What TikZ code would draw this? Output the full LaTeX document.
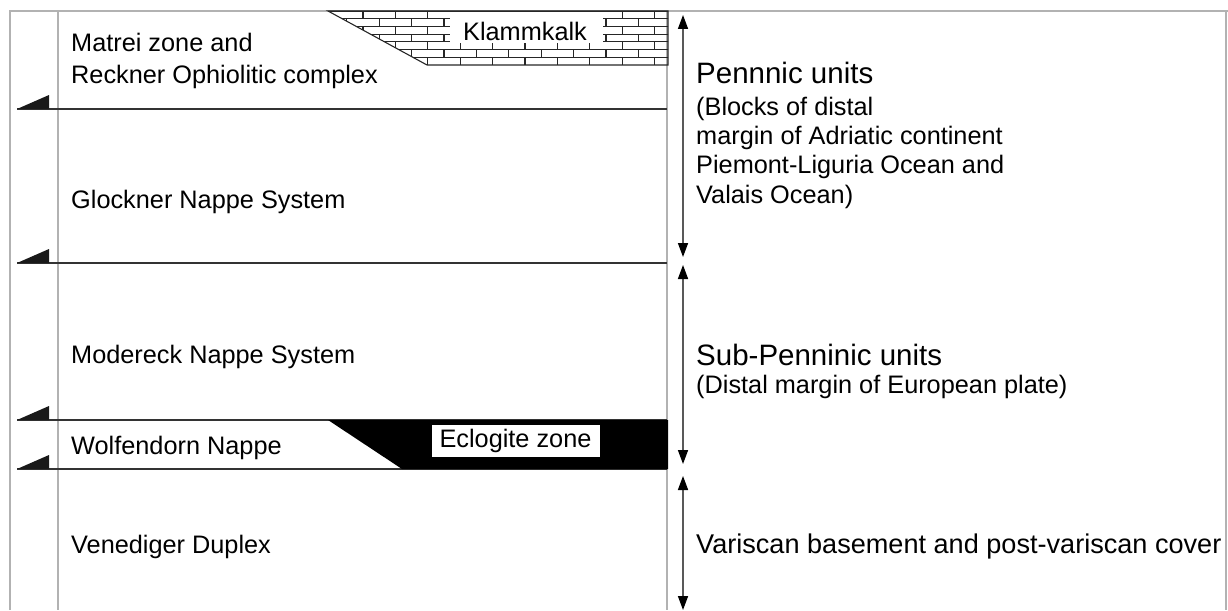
\documentclass[tikz,border=0pt]{standalone}
\usepackage{fontspec}
\setmainfont{Liberation Sans}
\usetikzlibrary{arrows.meta}

\begin{document}
\begin{tikzpicture}[x=1pt,y=-1pt,
                frame/.style={draw=black!30,line width=1.2pt},
                thrust/.style={draw=black!80,line width=1.5pt},
                thrusttip/.style={fill=black!90},
                brick/.style={draw=black!85,line width=1.1pt},
                unitarrow/.style={draw=black!65,line width=1.5pt,
                    {Triangle[length=14pt,width=10pt,color=black]}-{Triangle[length=14pt,width=10pt,color=black]}},
                unitname/.style={anchor=base west,inner sep=0pt,font=\fontsize{25.3}{30}\selectfont},
                bigname/.style={anchor=base west,inner sep=0pt,font=\fontsize{29.5}{35}\selectfont}
            ]
                \useasboundingbox (0,0) rectangle (1228,610);
% frame of the table
                \draw[frame] (10,610) -- (10,11) -- (1228,11);
                \draw[frame] (58,11) -- (58,610);
                \draw[frame] (667,11) -- (667,610);
                \draw[frame] (1226,11) -- (1226,610);
% thrust planes with their triangles
                \foreach \y in {109,263,420,469}
                    {
                    \draw[thrust] (17,\y) -- (667,\y);
                    \fill[thrusttip] (17,\y) -- (49,\y) -- (49,\y-14) -- cycle;
                }
% Klammkalk bricks
                \begin{scope}
                    \clip (328,11) -- (668,11) -- (668,65) -- (427,65) -- cycle;
                    \foreach \r in {0,...,6}
                        {
                        \pgfmathsetmacro{\yt}{11+\r*7.714}
                        \pgfmathsetmacro{\off}{mod(\r,2)*16.2}
                        \draw[brick] (300,\yt) -- (700,\yt);
                        \foreach \c in {0,...,11}
                            {
                            \draw[brick] (330.6+\off+\c*32.4,\yt) -- ++(0,7.714);
                        }
                    }
                \end{scope}
                \draw[brick] (328,11) -- (427,65) -- (668,65) -- (668,11) -- cycle;
                \fill[white] (450,12) rectangle (603,43);
                \node[anchor=base,inner sep=0pt,font=\fontsize{25.3}{30}\selectfont] (klamm) at (525,41) {Klammkalk};
% Eclogite zone
                \fill[black] (328,420) -- (668,420) -- (668,469) -- (402,469) -- cycle;
                \node[draw=black,fill=white,line width=0.8pt,inner xsep=8.5pt,inner ysep=4.5pt,
                      font=\fontsize{25.3}{30}\selectfont] (eclogite) at (515.5,441) {Eclogite zone};
% unit names
                \node[unitname] (matrei) at (71,52) {Matrei zone and};
                \node[unitname] (reckner) at (71,83) {Reckner Ophiolitic complex};
                \node[unitname] (glockner) at (71,208) {Glockner Nappe System};
                \node[unitname] (modereck) at (71,363) {Modereck Nappe System};
                \node[unitname] (wolfendorn) at (71,454) {Wolfendorn Nappe};
                \node[unitname] (venediger) at (71,553) {Venediger Duplex};
% extent arrows
                \coordinate (penntop) at (683,15);
                \coordinate (pennbot) at (683,257);
                \coordinate (subtop) at (683,265);
                \coordinate (subbot) at (683,464);
                \coordinate (vartop) at (683,476);
                \coordinate (varbot) at (683,610);
                \draw[unitarrow] (penntop) -- (pennbot);
                \draw[unitarrow] (subtop) -- (subbot);
                \draw[unitarrow] (vartop) -- (varbot);
% groups
                \node[bigname] (pennic) at (696,83) {Pennnic units};
                \node[unitname] (pennicA) at (696,115) {(Blocks of distal};
                \node[unitname] (pennicB) at (696,144) {margin of Adriatic continent};
                \node[unitname] (pennicC) at (696,173) {Piemont-Liguria Ocean and};
                \node[unitname] (pennicD) at (696,203) {Valais Ocean)};
                \node[bigname] (subpennic) at (696,365) {Sub-Penninic units};
                \node[unitname] (subpennicA) at (696,393) {(Distal margin of European plate)};
                \node[unitname,font=\fontsize{27.1}{32}\selectfont] (variscan) at (696,553) {Variscan basement and post-variscan cover};

            \end{tikzpicture}
\end{document}
